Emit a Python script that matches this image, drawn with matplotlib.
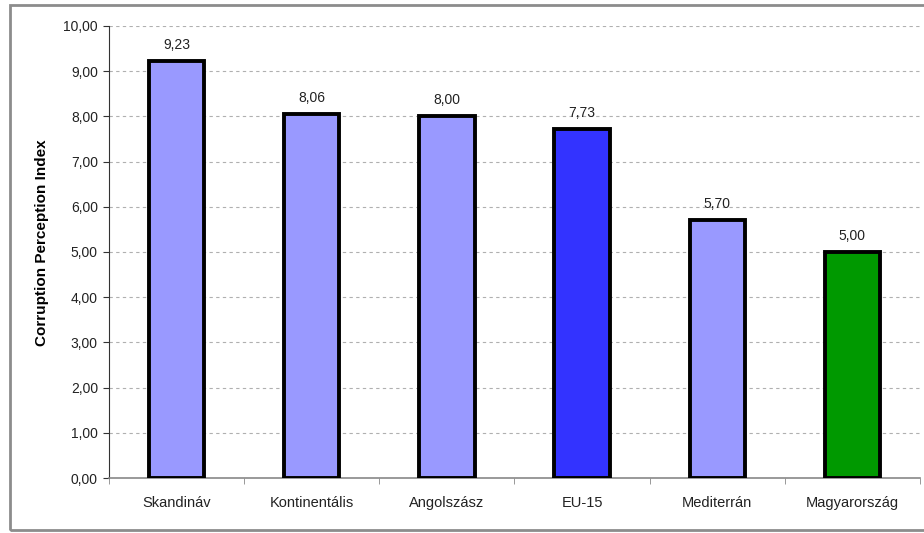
import numpy as np
import matplotlib.pyplot as plt
from matplotlib.patches import Rectangle
from matplotlib.ticker import FuncFormatter, FixedLocator

plt.rcParams['font.family'] = ['Liberation Sans', 'DejaVu Sans']

categories = ["Skandináv", "Kontinentális", "Angolszász", "EU-15", "Mediterrán", "Magyarország"]
values = [9.23, 8.06, 8.00, 7.73, 5.70, 5.00]
colors = ["#9999ff", "#9999ff", "#9999ff", "#3333ff", "#9999ff", "#009900"]

fig = plt.figure(figsize=(9.24, 5.33), dpi=100)
# grey frame around the chart area (right side runs off the page)
fig.patches.append(Rectangle((10 / 924, 3 / 533), 1.0, 525 / 533, transform=fig.transFigure,
                             fill=False, edgecolor="#8c8c8c", linewidth=2))

ax = fig.add_axes([109 / 924, 55 / 533, 811 / 924, 452 / 533])
x = np.arange(len(categories))
ax.bar(x, values, width=0.41, color=colors, edgecolor="black", linewidth=2.8, zorder=3)

for xi, v in zip(x, values):
    ax.text(xi, v + 0.2, f"{v:.2f}".replace(".", ","), ha="center", va="bottom",
            fontsize=10, color="#222222")

ax.set_xlim(-0.5, len(categories) - 0.5)
ax.set_ylim(0, 10)
ax.set_yticks(np.arange(0, 11, 1))
ax.yaxis.set_major_formatter(FuncFormatter(lambda v, p: f"{v:.2f}".replace(".", ",")))
ax.set_xticks(x)
ax.set_xticklabels(categories)
ax.xaxis.set_minor_locator(FixedLocator(np.arange(-0.5, len(categories), 1.0)))
ax.tick_params(axis="x", which="major", length=0, pad=13, labelsize=10.5, labelcolor="#222222")
ax.tick_params(axis="x", which="minor", length=4, color="#888888", direction="out")
ax.tick_params(axis="y", length=4, color="#333333", labelsize=10, labelcolor="#222222", pad=4)

ax.grid(axis="y", linestyle=(0, (3, 3)), color="#b0b0b0", linewidth=0.8, zorder=0)
for s in ["top", "right"]:
    ax.spines[s].set_visible(False)
ax.spines["left"].set_color("#333333")
ax.spines["bottom"].set_color("#888888")
ax.spines["bottom"].set_linewidth(1.2)

ax.set_ylabel("Corruption Perception Index", fontsize=11, fontweight="bold")
ax.yaxis.set_label_coords(-0.074, 0.52)

fig.savefig("out.png", dpi=100)
